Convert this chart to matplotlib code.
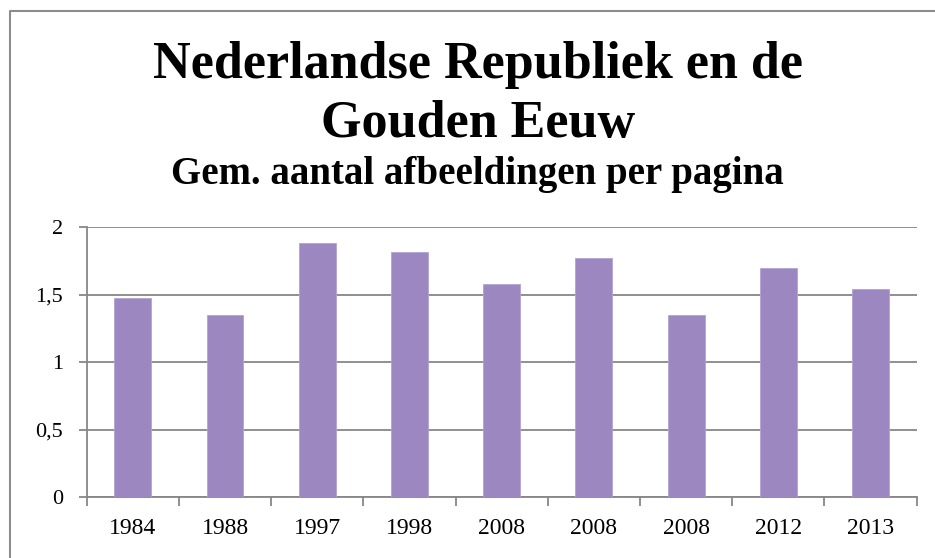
import matplotlib
matplotlib.use("Agg")
import matplotlib.pyplot as plt
import numpy as np
from matplotlib.lines import Line2D

categories = ["1984", "1988", "1997", "1998", "2008", "2008", "2008", "2012", "2013"]
values = [1.48, 1.35, 1.88, 1.82, 1.58, 1.77, 1.35, 1.70, 1.54]
yticks = [0, 0.5, 1, 1.5, 2]
ytick_labels = ["0", "0,5", "1", "1,5", "2"]
title_lines = ["Nederlandse Republiek en de", "Gouden Eeuw"]
subtitle = "Gem. aantal afbeeldingen per pagina"

W, H = 935, 558
fig = plt.figure(figsize=(W / 100, H / 100), dpi=100)
fig.patch.set_facecolor("white")

# figure border (left and top visible only)
fig.lines.append(Line2D([10 / W, 10 / W, 1.0], [-0.05, 1 - 11 / H, 1 - 11 / H],
                        transform=fig.transFigure, color="#8c8c8c", linewidth=1.5))

ax = fig.add_axes([86.7 / W, 1 - 497.3 / H, (916.7 - 86.7) / W, (497.3 - 227.3) / H])
x = np.arange(len(categories))
ax.bar(x, values, width=0.4, color="#9c87c0", edgecolor="#b2a3d3", linewidth=0.6, zorder=3)

ax.set_xlim(-0.5, len(categories) - 0.5)
ax.set_ylim(0, 2)
ax.set_yticks(yticks)
ax.set_yticklabels(ytick_labels)
ax.set_xticks(x)
ax.set_xticklabels(categories)
ax.set_xticks(np.arange(len(categories) + 1) - 0.5, minor=True)

grid_c = "#878787"
ax.yaxis.grid(True, color=grid_c, linewidth=1.3, zorder=1)
ax.set_axisbelow(True)
for s in ["top", "right"]:
    ax.spines[s].set_visible(False)
for s in ["left", "bottom"]:
    ax.spines[s].set_color(grid_c)
    ax.spines[s].set_linewidth(1.3)

font = "Liberation Serif"
ax.tick_params(axis="x", which="major", length=0, pad=15, labelsize=17)
ax.tick_params(axis="x", which="minor", length=6.5, width=1.3, color=grid_c)
ax.tick_params(axis="y", length=6, width=1.3, color=grid_c, pad=11, labelsize=16)
for lbl in ax.get_xticklabels() + ax.get_yticklabels():
    lbl.set_fontfamily(font)
    lbl.set_color("black")

fig.text(478 / W, 1 - 78 / H, title_lines[0], ha="center", va="baseline",
         fontsize=37.5, fontweight="bold", family=font)
fig.text(478 / W, 1 - 137 / H, title_lines[1], ha="center", va="baseline",
         fontsize=37.5, fontweight="bold", family=font)
fig.text(477 / W, 1 - 184 / H, subtitle, ha="center", va="baseline",
         fontsize=28, fontweight="bold", family=font)

fig.savefig("out.png", dpi=100)
